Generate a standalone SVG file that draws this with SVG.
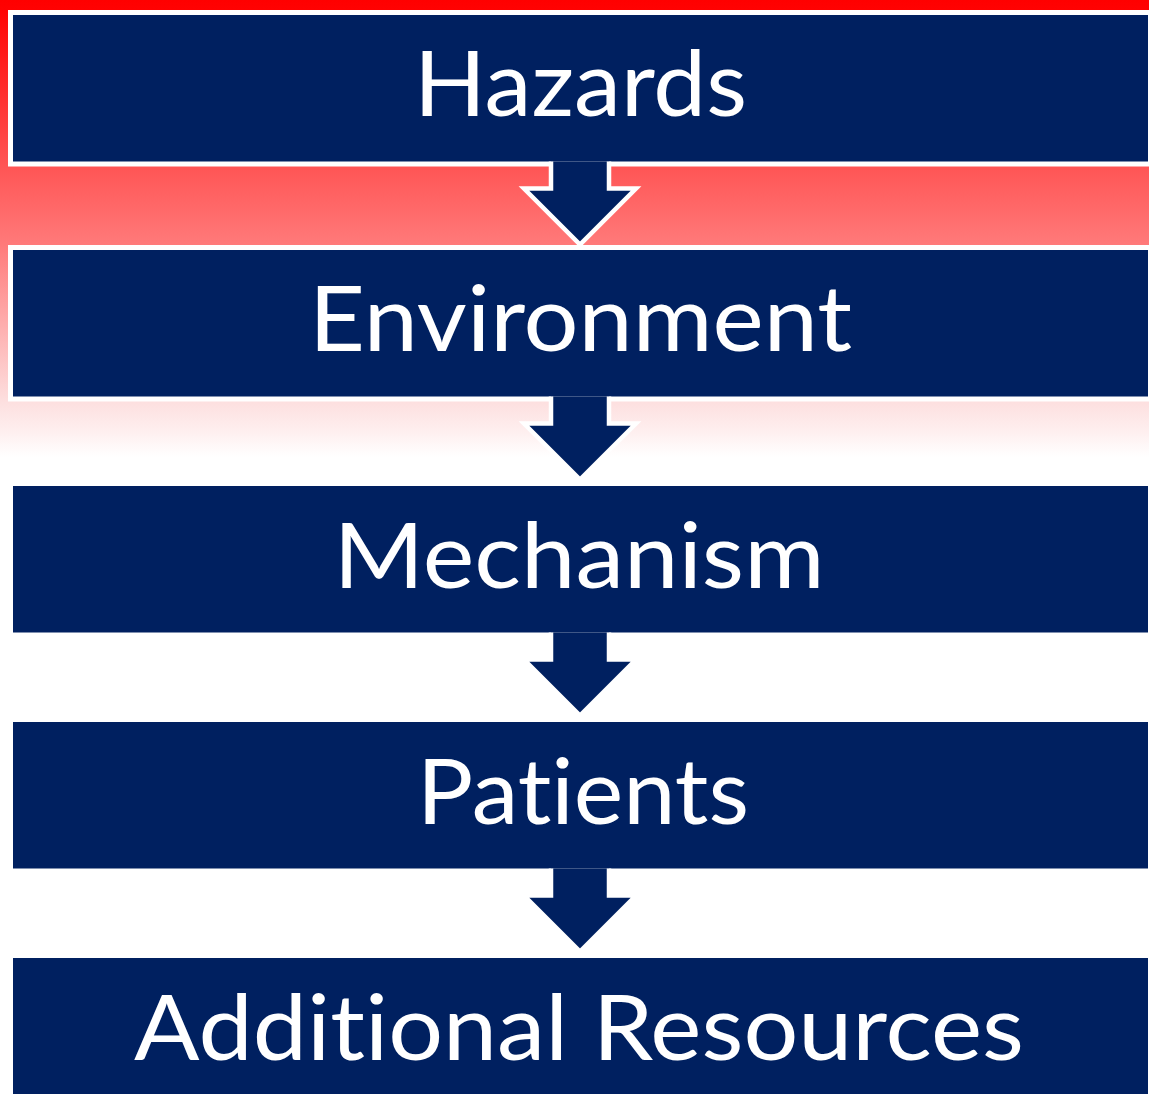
<svg xmlns="http://www.w3.org/2000/svg" width="1149" height="1094" viewBox="0 0 1149 1094">
  <defs>
    <linearGradient id="bg" gradientUnits="userSpaceOnUse" x1="0" y1="0" x2="0" y2="470">
      <stop offset="0" stop-color="#ff0000"/>
      <stop offset="0.02" stop-color="#ff0202"/>
      <stop offset="0.355" stop-color="#ff5555"/>
      <stop offset="0.521" stop-color="#ff7a7a"/>
      <stop offset="0.857" stop-color="#fde0e0"/>
      <stop offset="0.915" stop-color="#feeeee"/>
      <stop offset="0.972" stop-color="#ffffff"/>
      <stop offset="1" stop-color="#ffffff"/>
    </linearGradient>
    <style>
      .box { fill: #002060; stroke: #ffffff; stroke-width: 5; }
      .arrow { fill: #002060; stroke: #ffffff; stroke-width: 4.5; stroke-linejoin: miter; }
      .label { fill: #ffffff; font-family: Lato, "Open Sans", "Liberation Sans", sans-serif; font-size: 92px; text-anchor: middle; font-variant-ligatures: none; font-feature-settings: "liga" 0, "clig" 0, "dlig" 0; }
    </style>
  </defs>
  <rect x="0" y="0" width="1149" height="1094" fill="#ffffff"/>
  <rect x="0" y="0" width="1149" height="470" fill="url(#bg)"/>

  <g id="node-hazards">
    <rect class="box" x="10.5" y="12.5" width="1140" height="151.5"/>
    <text class="label" x="580.5" y="115.5" textLength="333" lengthAdjust="spacingAndGlyphs">Hazards</text>
  </g>
  <g id="node-environment">
    <rect class="box" x="10.5" y="247.5" width="1140" height="151.5"/>
    <text class="label" x="580.5" y="351" textLength="543" lengthAdjust="spacingAndGlyphs">Environment</text>
  </g>
  <g id="node-mechanism">
    <rect class="box" x="10.5" y="483.5" width="1140" height="151.5"/>
    <text class="label" x="579" y="587.5" textLength="491" lengthAdjust="spacingAndGlyphs">Mechanism</text>
  </g>
  <g id="node-patients">
    <rect class="box" x="10.5" y="719.5" width="1140" height="151.5"/>
    <text class="label" x="583" y="823.5" textLength="332" lengthAdjust="spacingAndGlyphs">Patients</text>
  </g>
  <g id="node-additional-resources">
    <rect class="box" x="10.5" y="955.5" width="1140" height="151.5"/>
    <text class="label" x="579" y="1059.5" textLength="890" lengthAdjust="spacingAndGlyphs">Additional Resources</text>
  </g>

  <g id="connectors">
    <path class="arrow" d="M551,161.5 L551,188.5 L524,188.5 L580,244.5 L636,188.5 L609,188.5 L609,161.5"/>
    <path class="arrow" d="M551,396.5 L551,423.5 L524,423.5 L580,479.5 L636,423.5 L609,423.5 L609,396.5"/>
    <path class="arrow" d="M551,632.5 L551,659.5 L524,659.5 L580,715.5 L636,659.5 L609,659.5 L609,632.5"/>
    <path class="arrow" d="M551,868.5 L551,895.5 L524,895.5 L580,951.5 L636,895.5 L609,895.5 L609,868.5"/>
  </g>
</svg>
